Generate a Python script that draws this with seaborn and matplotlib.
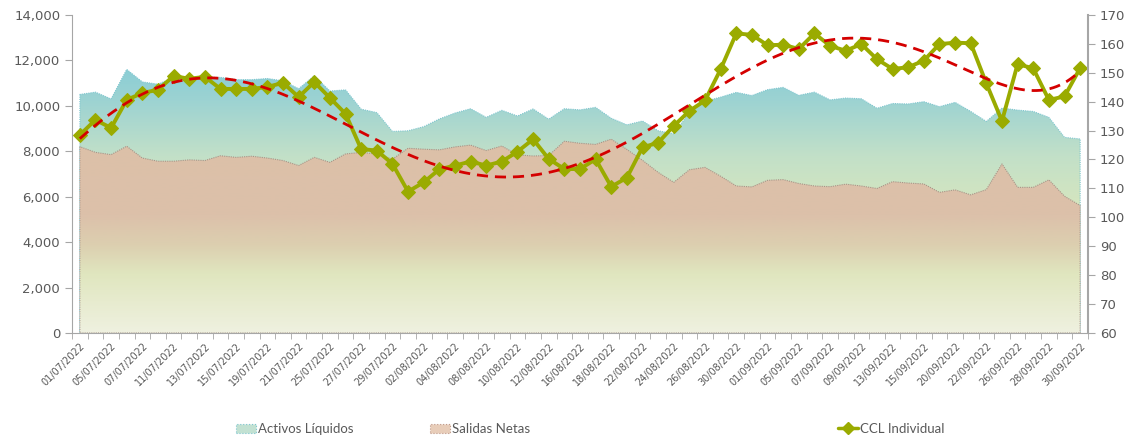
import numpy as np
import matplotlib
matplotlib.use('Agg')
import matplotlib.pyplot as plt
from matplotlib.colors import LinearSegmentedColormap
from matplotlib.patches import Patch
from matplotlib.lines import Line2D
from matplotlib.ticker import FuncFormatter
import seaborn as sns

# business days jul-sep 2022
dates = ['01/07/2022', '04/07/2022', '05/07/2022', '06/07/2022', '07/07/2022', '08/07/2022',
         '11/07/2022', '12/07/2022', '13/07/2022', '14/07/2022', '15/07/2022', '18/07/2022',
         '19/07/2022', '20/07/2022', '21/07/2022', '22/07/2022', '25/07/2022', '26/07/2022',
         '27/07/2022', '28/07/2022', '29/07/2022', '01/08/2022', '02/08/2022', '03/08/2022',
         '04/08/2022', '05/08/2022', '08/08/2022', '09/08/2022', '10/08/2022', '11/08/2022',
         '12/08/2022', '15/08/2022', '16/08/2022', '17/08/2022', '18/08/2022', '19/08/2022',
         '22/08/2022', '23/08/2022', '24/08/2022', '25/08/2022', '26/08/2022', '29/08/2022',
         '30/08/2022', '31/08/2022', '01/09/2022', '02/09/2022', '05/09/2022', '06/09/2022',
         '07/09/2022', '08/09/2022', '09/09/2022', '12/09/2022', '13/09/2022', '14/09/2022',
         '15/09/2022', '16/09/2022', '20/09/2022', '21/09/2022', '22/09/2022', '23/09/2022',
         '26/09/2022', '27/09/2022', '28/09/2022', '29/09/2022', '30/09/2022']

activos = [10500, 10600, 10300, 11600, 11050, 10950, 11250, 11200, 11250, 11250,
           11150, 11150, 11200, 11100, 10750, 11320, 10650, 10700, 9850, 9700,
           8870, 8900, 9080, 9420, 9680, 9870, 9490, 9800, 9550, 9860,
           9410, 9870, 9820, 9930, 9450, 9160, 9330, 8900, 8770, 9700,
           10200, 10380, 10590, 10450, 10710, 10810, 10460, 10600, 10260, 10340,
           10310, 9890, 10100, 10080, 10180, 9960, 10150, 9750, 9310, 9900,
           9810, 9750, 9490, 8610, 8540]

salidas = [8200, 7950, 7850, 8220, 7700, 7560, 7560, 7620, 7590, 7800,
           7730, 7780, 7700, 7590, 7370, 7730, 7510, 7880, 7950, 7880,
           7650, 8130, 8090, 8060, 8190, 8270, 8030, 8230, 7840, 7790,
           7810, 8440, 8350, 8300, 8530, 8080, 7600, 7070, 6630, 7185,
           7290, 6900, 6470, 6430, 6720, 6750, 6580, 6470, 6440, 6550,
           6470, 6360, 6660, 6600, 6560, 6190, 6300, 6080, 6310, 7440,
           6410, 6410, 6740, 6020, 5610]

ccl = [128.5, 133.7, 130.9, 140.6, 143.0, 144.1, 148.9, 147.9, 148.6, 144.4,
       144.4, 144.4, 145.1, 146.5, 141.6, 146.8, 141.3, 135.8, 123.6, 123.1,
       118.5, 108.9, 112.1, 116.6, 117.9, 119.3, 117.9, 119.3, 122.7, 127.0,
       120.2, 116.7, 116.7, 120.1, 110.6, 113.7, 124.2, 125.8, 131.6, 136.8,
       140.4, 151.2, 163.6, 163.1, 159.5, 159.7, 158.2, 163.6, 159.3, 157.6,
       159.9, 154.7, 151.3, 151.9, 154.2, 159.9, 160.4, 160.2, 146.3, 133.3,
       153.0, 151.5, 140.6, 141.8, 151.6]

sns.set_style('white')
plt.rcParams['font.family'] = ['DejaVu Sans']

x = np.arange(len(dates))
grey = '#595959'
axis_col = '#a6a6a6'
olive = '#9aab00'

fig, ax = plt.subplots(figsize=(11.36, 4.38), dpi=100)
fig.subplots_adjust(left=0.0634, right=0.9577, top=0.966, bottom=0.2397)


def gradient_area(ax, y, stops, top, edge, z):
    # area with vertical gradient, clipped to the fill polygon
    poly = ax.fill_between(x, 0, y, facecolor='none', edgecolor=edge,
                           linestyle=(0, (1, 1)), linewidth=0.8, zorder=z + 0.1)
    cmap = LinearSegmentedColormap.from_list('g', stops)
    img = ax.imshow(np.linspace(0, 1, 256).reshape(-1, 1), cmap=cmap, origin='lower',
                    aspect='auto', extent=[x[0], x[-1], 0, top], zorder=z,
                    interpolation='bilinear')
    img.set_clip_path(poly.get_paths()[0], transform=ax.transData)


teal_stops = [(0.0, '#eff1e0'), (0.2, '#e5ebcc'), (0.4, '#dce8bc'),
              (0.65, '#c2e0c8'), (0.85, '#9dd3d2'), (1.0, '#86ccd6')]
brown_stops = [(0.0, '#eff1e0'), (0.3, '#e0e6bf'), (0.45, '#dccfb0'),
               (0.6, '#dcc1aa'), (1.0, '#dcc0a8')]

gradient_area(ax, activos, teal_stops, 12000, '#7fc6cf', 1)
gradient_area(ax, salidas, brown_stops, 8600, '#a89488', 2)

ax.set_xlim(-0.5, len(x) - 0.5)
ax.set_ylim(0, 14000)
ax.set_yticks(range(0, 14001, 2000))
ax.yaxis.set_major_formatter(FuncFormatter(lambda v, p: f'{int(v):,}'))
ax.tick_params(axis='y', length=5, color=axis_col, labelsize=9.5, labelcolor=grey, left=True)

ax.set_xticks(x[::2])
ax.set_xticklabels(dates[::2], rotation=45, ha='right', rotation_mode='anchor',
                   fontsize=7, color=grey)
ax.tick_params(axis='x', which='major', length=0, pad=6)
ax.set_xticks(np.arange(-0.5, len(x)), minor=True)
ax.tick_params(axis='x', which='minor', length=4, color=axis_col, bottom=True)

for s in ['top', 'right']:
    ax.spines[s].set_visible(False)
for s in ['left', 'bottom']:
    ax.spines[s].set_color(axis_col)

ax2 = ax.twinx()
sns.lineplot(x=x, y=ccl, ax=ax2, color=olive, marker='D', markersize=7.5,
             markeredgecolor=olive, linewidth=2.8)

# polynomial trendline (order 6) of CCL
p = np.polynomial.Polynomial.fit(x + 1, ccl, 6)
xs = np.linspace(x[0], x[-1], 300)
sns.lineplot(x=xs, y=p(xs + 1), ax=ax2, color='#d40000', linewidth=2,
             linestyle=(0, (4, 2.5)))

ax2.set_ylim(60, 170)
ax2.set_yticks(range(60, 171, 10))
ax2.set_ylabel('')
ax2.tick_params(axis='y', length=5, color=axis_col, labelsize=9.5, labelcolor=grey, right=True)
for s in ['top', 'left', 'bottom']:
    ax2.spines[s].set_visible(False)
ax2.spines['right'].set_color(axis_col)
ax2.spines['right'].set_linewidth(1.5)

# legend, three separate entries like the original
handles = [Patch(facecolor='#c2e1d2', edgecolor='#7fc6cf', linestyle=':', linewidth=0.8),
           Patch(facecolor='#e8cdb9', edgecolor='#c09a8a', linestyle=':', linewidth=0.8),
           Line2D([], [], color=olive, marker='D', markersize=6, linewidth=2.5)]
labels = ['Activos Líquidos', 'Salidas Netas', 'CCL Individual']
xpos = [236, 430, 838]
for h, l, xp in zip(handles, labels, xpos):
    fig.legend([h], [l], loc='center left', bbox_to_anchor=(xp / 1136, 1 - 429 / 438),
               frameon=False, borderpad=0, borderaxespad=0, handletextpad=0.2,
               handlelength=1.5, handleheight=0.7,
               prop={'family': ['Lato', 'DejaVu Sans'], 'size': 9.5}, labelcolor=grey)

fig.savefig('out.png', dpi=100)
